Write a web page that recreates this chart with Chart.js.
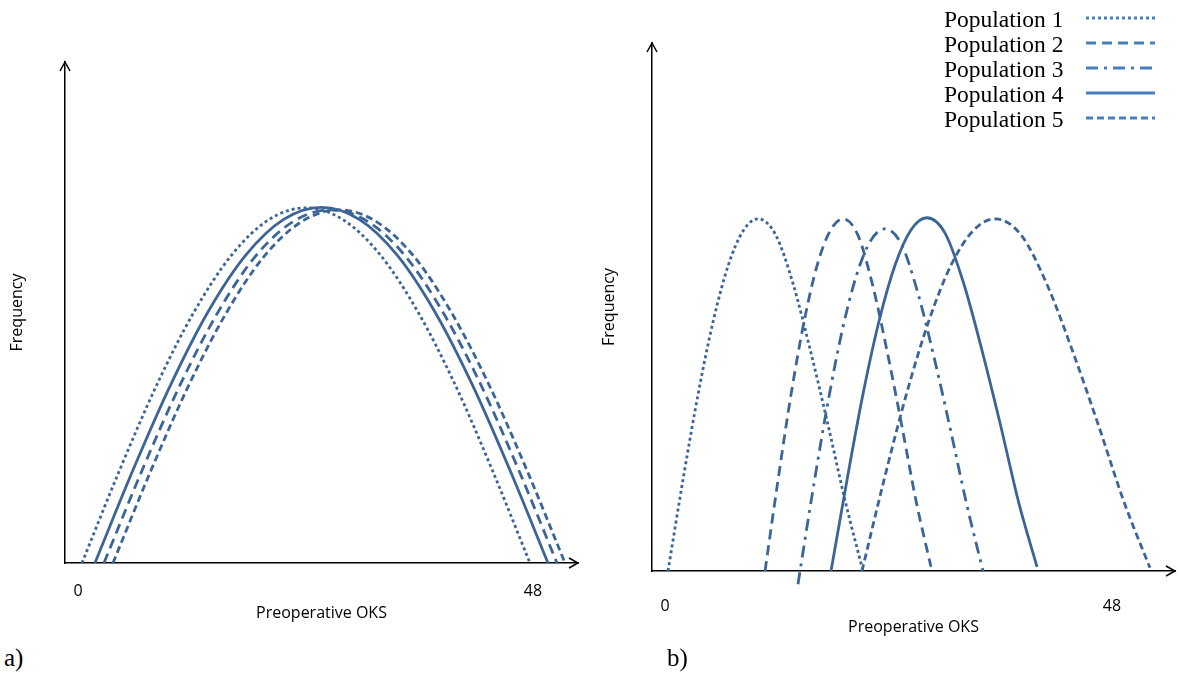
<!DOCTYPE html>
<html>
<head>
<meta charset="utf-8">
<script src="https://cdn.jsdelivr.net/npm/chart.js@4"></script>
<style>
  body { margin: 0; background: #fff; width: 1179px; height: 682px; position: relative; overflow: hidden; }
  canvas { position: absolute; top: 0; }
  #panelA { left: 0; }
  #panelB { left: 600px; }
  .tag { position: absolute; top: 644px; font: 25px "Liberation Serif", serif; color: #000; }
</style>
</head>
<body>
<canvas id="panelA" width="600" height="640"></canvas>
<canvas id="panelB" width="579" height="650"></canvas>
<div class="tag" style="left:4px">a)</div>
<div class="tag" style="left:667px">b)</div>
<script>
const labels = ["Population 1", "Population 2", "Population 3", "Population 4", "Population 5"];
const xTicks = [0, 48];

// panel a) - five populations almost on top of each other
const aPop1X = [0.42, 4.36, 8.30, 12.24, 16.18, 20.11, 24.05, 27.99, 31.93, 35.87, 39.81, 43.74, 47.68];
const aPop1Y = [0, 18.4, 35.5, 50.1, 61.4, 68.5, 70.9, 68.5, 61.4, 50.1, 35.5, 18.4, 0];
const aPop4X = [1.79, 5.77, 9.76, 13.74, 17.72, 21.70, 25.69, 29.67, 33.65, 37.63, 41.62, 45.60, 49.58];
const aPop4Y = [0, 18.4, 35.5, 50.2, 61.5, 68.6, 71.0, 68.6, 61.5, 50.2, 35.5, 18.4, 0];
const aPop2X = [2.74, 6.72, 10.71, 14.69, 18.67, 22.65, 26.64, 30.62, 34.60, 38.58, 42.57, 46.55, 50.53];
const aPop2Y = [0, 18.3, 35.3, 49.8, 61.1, 68.1, 70.5, 68.1, 61.1, 49.8, 35.3, 18.3, 0];
const aPop5X = [3.69, 7.66, 11.64, 15.61, 19.59, 23.56, 27.54, 31.51, 35.48, 39.46, 43.43, 47.41, 51.38];
const aPop5Y = [0, 18.3, 35.3, 49.8, 61.1, 68.1, 70.5, 68.1, 61.1, 49.8, 35.3, 18.3, 0];

// panel b) - populations spread along the score
const bPop1X = [0.32, 1.93, 3.54, 5.16, 6.77, 8.38, 9.99, 11.87, 13.75, 15.62, 17.50, 19.38, 21.26];
const bPop1Y = [0, 17.3, 33.4, 47.2, 57.8, 64.4, 66.7, 63.7, 54.4, 41.7, 27.7, 13.0, 0];
const bPop2X = [10.74, 12.14, 13.53, 14.93, 16.32, 17.72, 19.11, 20.69, 22.26, 23.84, 25.41, 26.99, 28.56];
const bPop2Y = [0, 17.3, 33.4, 47.2, 57.8, 64.4, 66.7, 63.7, 54.4, 41.7, 27.7, 13.0, 0.8];
const bPop3X = [14.28, 14.50, 16.02, 17.54, 19.06, 20.58, 22.10, 23.62, 25.38, 27.13, 28.89, 30.64, 32.40, 34.15];
const bPop3Y = [-2.5, 0, 16.8, 32.4, 45.8, 56.1, 62.6, 64.8, 61.9, 52.8, 40.5, 26.9, 12.6, 0];
const bPop4X = [17.83, 19.55, 21.26, 22.98, 24.70, 26.41, 28.13, 30.10, 32.07, 34.04, 36.01, 37.98, 39.95];
const bPop4Y = [0, 17.3, 33.5, 47.3, 57.9, 64.6, 66.9, 63.9, 54.5, 41.8, 27.8, 13.0, 0.8];
const bPop5X = [21.15, 23.53, 25.91, 28.30, 30.68, 33.06, 35.44, 38.21, 40.99, 43.76, 46.53, 49.31, 52.08];
const bPop5Y = [0, 17.3, 33.4, 47.2, 57.8, 64.4, 66.7, 63.7, 54.4, 41.7, 27.7, 13.0, 0.6];

// line style for each population
const dashes = [[3, 3], [10, 6], [12, 6, 3, 6], [], [7, 4]];
const curveColor = "#3c6597";
const legendColor = "#4a7ebb";
const tickFont = { family: "'Open Sans', sans-serif", size: 16, lineHeight: 1.2 };

function zip(xs, ys) {
  return xs.map((x, i) => ({ x: x, y: ys[i] }));
}

function curve(pop, xs, ys) {
  return {
    label: labels[pop - 1],
    data: zip(xs, ys),
    borderColor: curveColor,
    borderWidth: 2.8,
    borderDash: dashes[pop - 1],
    pointRadius: 0,
    fill: false,
    cubicInterpolationMode: "monotone",
    clip: false,
  };
}

// arrow heads on the ends of both axes
const axisArrows = {
  id: "axisArrows",
  afterDraw(chart) {
    const { ctx, chartArea: a } = chart;
    ctx.save();
    ctx.strokeStyle = "#000";
    ctx.lineWidth = 1.5;
    ctx.beginPath();
    ctx.moveTo(a.left - 5, a.top + 9);
    ctx.lineTo(a.left, a.top);
    ctx.lineTo(a.left + 5, a.top + 9);
    ctx.moveTo(a.right - 9, a.bottom - 5);
    ctx.lineTo(a.right, a.bottom);
    ctx.lineTo(a.right - 9, a.bottom + 5);
    ctx.stroke();
    ctx.restore();
  },
};

// legend on panel b: text first, then a sample of the line
const sideLegend = {
  id: "sideLegend",
  afterDraw(chart) {
    const ctx = chart.ctx;
    ctx.save();
    ctx.font = "23.5px 'Liberation Serif', serif";
    ctx.fillStyle = "#000";
    ctx.textBaseline = "middle";
    labels.forEach((name, i) => {
      const y = 21 + i * 25;
      ctx.fillText(name, 344, y);
      ctx.strokeStyle = legendColor;
      ctx.lineWidth = 3;
      ctx.setLineDash(dashes[i]);
      ctx.beginPath();
      ctx.moveTo(486, y - 3);
      ctx.lineTo(555, y - 3);
      ctx.stroke();
    });
    ctx.restore();
  },
};

function makePanel(id, datasets, p) {
  return new Chart(document.getElementById(id), {
    type: "line",
    data: { datasets: datasets },
    plugins: p.plugins,
    options: {
      responsive: false,
      animation: false,
      layout: { padding: { left: 0, top: p.top, right: p.right, bottom: 0 } },
      plugins: { legend: { display: false }, tooltip: { enabled: false } },
      scales: {
        x: {
          type: "linear",
          min: p.xMin,
          max: p.xMax,
          afterBuildTicks: (s) => { s.ticks = xTicks.map((v) => ({ value: v })); },
          afterFit: (s) => { s.height = p.xHeight; },
          grid: { display: false, drawTicks: false },
          border: { display: true, color: "#000", width: 1.5 },
          ticks: { autoSkip: false, color: "#000", font: tickFont, padding: p.tickPad, maxRotation: 0 },
          title: { display: true, text: "Preoperative OKS", color: "#000", font: tickFont, padding: { top: 0, bottom: p.titlePad } },
        },
        y: {
          min: 0,
          max: 100,
          afterFit: (s) => { s.width = p.yWidth; },
          grid: { display: false, drawTicks: false },
          border: { display: true, color: "#000", width: 1.5 },
          ticks: { display: false },
          title: { display: true, text: "Frequency", color: "#000", font: tickFont, padding: { top: p.yTitlePad, bottom: 0 } },
        },
      },
    },
  });
}

makePanel("panelA", [
  curve(1, aPop1X, aPop1Y),
  curve(4, aPop4X, aPop4Y),
  curve(2, aPop2X, aPop2Y),
  curve(5, aPop5X, aPop5Y),
], { top: 62, right: 22, xMin: -1.37, xMax: 52.75, xHeight: 77, yWidth: 65, tickPad: 19, titlePad: 17, yTitlePad: 8, plugins: [axisArrows] });

makePanel("panelB", [
  curve(1, bPop1X, bPop1Y),
  curve(2, bPop2X, bPop2Y),
  curve(3, bPop3X, bPop3Y),
  curve(4, bPop4X, bPop4Y),
  curve(5, bPop5X, bPop5Y),
], { top: 43, right: 4, xMin: -1.40, xMax: 54.77, xHeight: 79, yWidth: 52, tickPad: 26, titlePad: 13, yTitlePad: 0, plugins: [axisArrows, sideLegend] });
</script>
</body>
</html>
